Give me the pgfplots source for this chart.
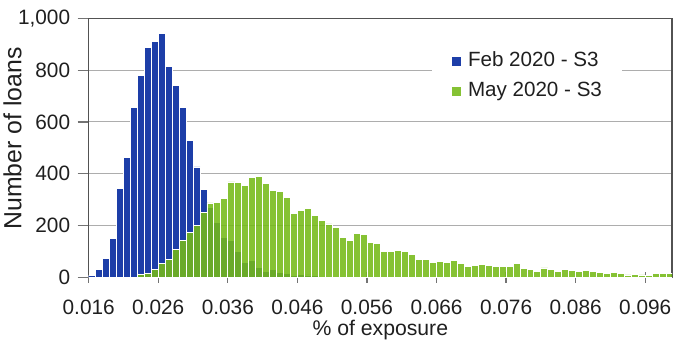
\documentclass[border=0pt]{standalone}
\usepackage{fontspec}
\setmainfont{Liberation Sans}
\usepackage{pgfplots}
\usepackage{pgfplotstable}
\pgfplotsset{compat=1.18}
\definecolor{febblue}{RGB}{29,62,168}
\definecolor{maygreen}{RGB}{117,186,24}
\pgfplotsset{layers/mylayers/.define layer set={axis background,axis grid,main,axis ticks,axis lines,axis tick labels,axis descriptions,axis foreground}{}}

\pgfplotstableread{
x feb may
0.0165 6 0
0.0175 31 0
0.0185 72 0
0.0195 151 0
0.0205 344 0
0.0215 462 0
0.0225 656 0
0.0235 781 12
0.0245 887 13
0.0255 911 31
0.0265 942 54
0.0275 813 70
0.0285 741 106
0.0295 656 142
0.0305 530 172
0.0315 426 199
0.0325 338 252
0.0335 271 287
0.0345 211 290
0.0355 152 305
0.0365 141 368
0.0375 100 365
0.0385 57 355
0.0395 64 384
0.0405 37 390
0.0415 24 361
0.0425 32 337
0.0435 17 332
0.0445 13 310
0.0455 8 248
0.0465 10 257
0.0475 9 266
0.0485 6 237
0.0495 5 221
0.0505 4 206
0.0515 3 193
0.0525 2 154
0.0535 2 144
0.0545 1 171
0.0555 1 165
0.0565 0 136
0.0575 0 130
0.0585 0 100
0.0595 0 100
0.0605 0 104
0.0615 0 99
0.0625 0 89
0.0635 0 69
0.0645 0 69
0.0655 0 56
0.0665 0 62
0.0675 0 58
0.0685 0 64
0.0695 0 54
0.0705 0 42
0.0715 0 44
0.0725 0 49
0.0735 0 44
0.0745 0 40
0.0755 0 41
0.0765 0 42
0.0775 0 53
0.0785 0 33
0.0795 0 31
0.0805 0 23
0.0815 0 36
0.0825 0 29
0.0835 0 24
0.0845 0 31
0.0855 0 28
0.0865 0 21
0.0875 0 27
0.0885 0 22
0.0895 0 18
0.0905 0 13
0.0915 0 19
0.0925 0 15
0.0935 0 9
0.0945 0 12
0.0955 0 9
0.0965 0 8
0.0975 0 13
0.0985 0 13
0.0995 0 13
}\loans

\begin{document}
\begin{tikzpicture}
\begin{axis}[
  set layers=mylayers,
  scale only axis,
  width=291.65pt, height=129.5pt,
  xmin=0.016, xmax=0.09985, ymin=0, ymax=1000,
  xtick={0.016,0.026,0.036,0.046,0.056,0.066,0.076,0.086,0.096},
  xticklabels={0.016,0.026,0.036,0.046,0.056,0.066,0.076,0.086,0.096},
  ytick={0,200,400,600,800,1000},
  yticklabels={0,200,400,600,800,{1,000}},
  ymajorgrids,
  grid style={black!32, line width=0.5pt},
  axis line style={black!68, line width=0.6pt},
  tick style={black!55, line width=0.6pt},
  tick pos=left,
  xtick align=center, ytick align=outside,
  major tick length=5.5pt,
  tick label style={font=\fontsize{10.4}{12}\selectfont, text=black!88},
  xticklabel style={anchor=base, yshift=-16pt},
  yticklabel style={anchor=east, inner sep=0pt, xshift=-3.6pt},
  xlabel={\% of exposure},
  xlabel style={at={(axis description cs:0.5,-0.2228)}, anchor=base, font=\fontsize{10.6}{12}\selectfont, text=black!88, inner sep=0pt},
  ylabel={Number of loans},
  ylabel style={at={(axis description cs:-0.1306,0.536)}, anchor=center, inner sep=0pt, font=\fontsize{12.4}{14}\selectfont, text=black!88},
  legend image code/.code={\fill[#1, draw=none] (0pt,-2.25pt) rectangle (4.5pt,2.25pt);},
  legend cell align=left,
  legend style={at={(0.7514,0.775)}, anchor=center, draw=none, fill=white,
    inner xsep=10pt, inner ysep=6pt, row sep=5.3pt,
    font=\fontsize{10.3}{12}\selectfont, text=black!88,
    nodes={inner sep=0pt, text height=7.5pt, text depth=2.2pt},
    /tikz/every odd column/.append style={column sep=3.5pt}},
  y filter/.expression={y<=0 ? nan : y},
]
\addplot[ybar, bar width=0.001, bar shift=0pt, fill=febblue, draw=white, line width=0.45pt] table[x=x, y=feb] {\loans};
\addlegendentry{Feb 2020 - S3}
\addplot[ybar, bar width=0.001, bar shift=0pt, fill=maygreen, fill opacity=0.88, draw=white, line width=0.45pt] table[x=x, y=may] {\loans};
\addlegendentry{May 2020 - S3}
\end{axis}
\pgfresetboundingbox
\path[use as bounding box] (-44.35pt,-30.85pt) rectangle (293.15pt,138.65pt);
\end{tikzpicture}
\end{document}
